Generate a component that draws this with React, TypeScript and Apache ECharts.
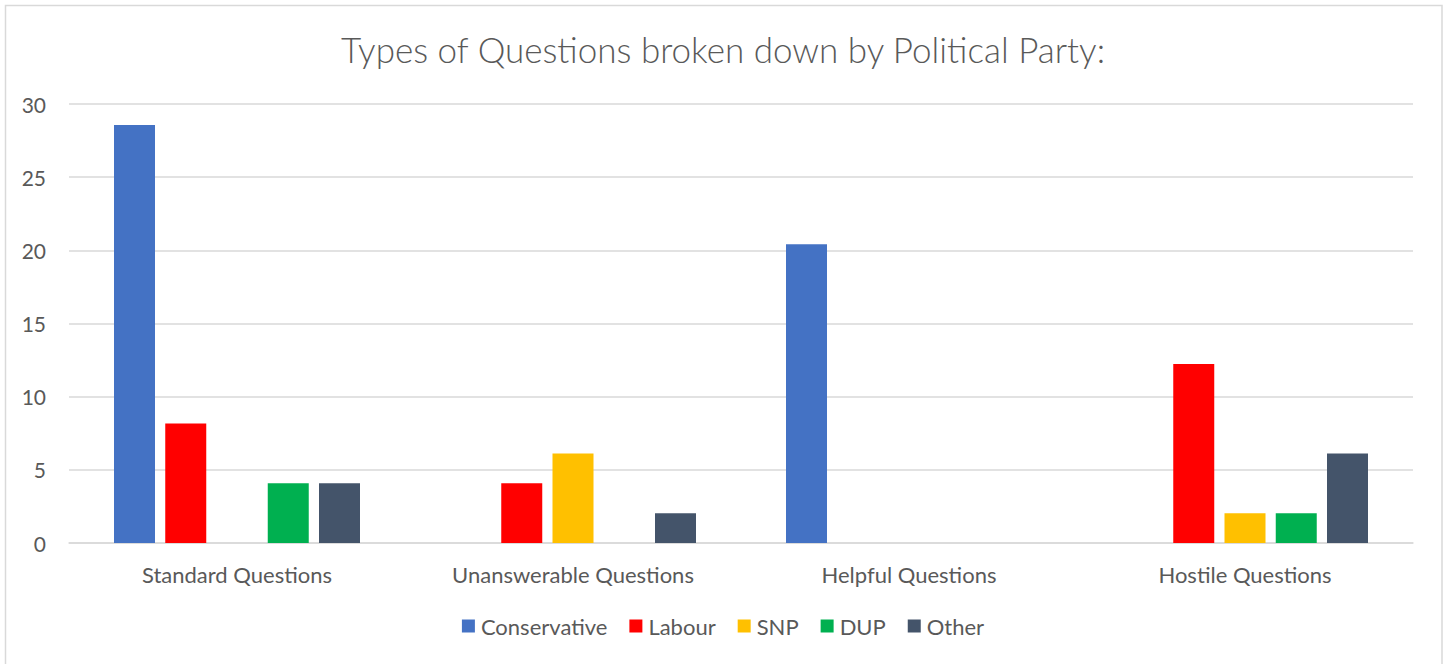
import React, { useEffect, useRef } from "react";
import * as echarts from "echarts";

const categories = ["Standard Questions", "Unanswerable Questions", "Helpful Questions", "Hostile Questions"];
const conservative = [28.57, 0, 20.41, 0];
const labour = [8.16, 4.08, 0, 12.24];
const snp = [0, 6.12, 0, 2.04];
const dup = [4.08, 0, 0, 2.04];
const other = [4.08, 2.04, 0, 6.12];
const seriesNames = ["Conservative", "Labour", "SNP", "DUP", "Other"];
const seriesColors = ["#4472C4", "#FF0000", "#FFC000", "#00B050", "#44546A"];
const titleText = "Types of Questions broken down by Political Party:";

const FONT = "Lato";

export default function App() {
  const ref = useRef<HTMLDivElement>(null);
  useEffect(() => {
    document.body.style.margin = "0";
    const chart = echarts.init(ref.current!, null, { renderer: "svg" });
    const data = [conservative, labour, snp, dup, other];
    chart.setOption({
      animation: false,
      backgroundColor: "#ffffff",
      textStyle: { fontFamily: FONT, color: "#595959" },
      title: {
        text: titleText,
        left: "center",
        top: 26,
        textStyle: { fontFamily: FONT, fontSize: 35, fontWeight: 300, color: "#595959" },
      },
      graphic: [
        {
          type: "rect",
          shape: { x: 5.5, y: 5.5, width: 1436.5, height: 670 },
          style: { fill: "none", stroke: "#D9D9D9", lineWidth: 1.5 },
          silent: true,
        },
      ],
      legend: {
        data: seriesNames,
        bottom: 22,
        left: "center",
        itemWidth: 13,
        itemHeight: 13,
        itemGap: 22,
        icon: "rect",
        textStyle: { fontFamily: FONT, fontSize: 22, color: "#595959", padding: [0, 0, 0, 1] },
      },
      grid: { left: 69, right: 33, top: 104, bottom: 121, containLabel: false },
      xAxis: {
        type: "category",
        data: categories,
        axisLine: { lineStyle: { color: "#D9D9D9", width: 1.5 } },
        axisTick: { show: false },
        axisLabel: { fontFamily: FONT, fontSize: 22, color: "#595959", margin: 20 },
      },
      yAxis: {
        type: "value",
        min: 0,
        max: 30,
        interval: 5,
        axisLine: { show: false },
        axisTick: { show: false },
        splitLine: { lineStyle: { color: "#D9D9D9", width: 1.5 } },
        axisLabel: { fontFamily: FONT, fontSize: 21, color: "#595959", margin: 23 },
      },
      series: seriesNames.map((name, i) => ({
        name,
        type: "bar",
        data: data[i],
        barWidth: 41,
        barGap: "25%",
        itemStyle: { color: seriesColors[i] },
      })),
    });
    return () => chart.dispose();
  }, []);
  return <div ref={ref} style={{ width: 1446, height: 664 }} />;
}
